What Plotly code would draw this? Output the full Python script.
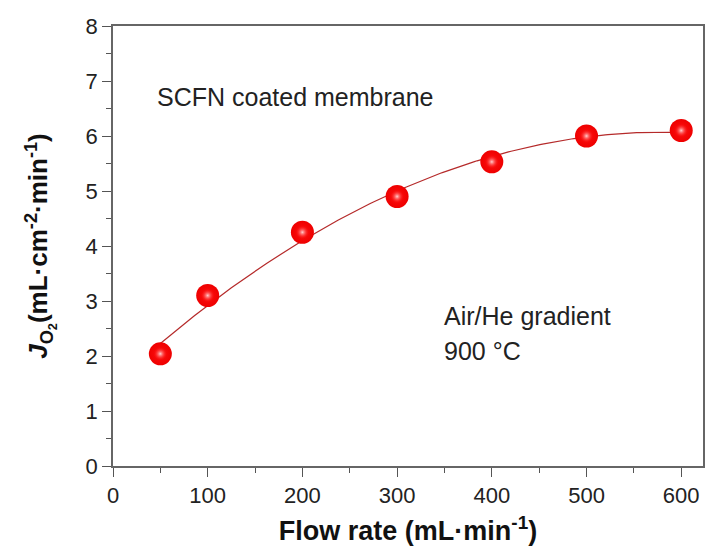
import numpy as np
import plotly.graph_objects as go

flow_rate = [50, 100, 200, 300, 400, 500, 600]
jo2 = [2.04, 3.10, 4.25, 4.90, 5.53, 6.00, 6.10]
x_ticks = [0, 100, 200, 300, 400, 500, 600]
y_ticks = [0, 1, 2, 3, 4, 5, 6, 7, 8]

# quadratic fit of the measured data
coef = np.polyfit(flow_rate, jo2, 2)
fit_x = np.linspace(min(flow_rate), max(flow_rate), 200)
fit_y = np.polyval(coef, fit_x)

FONT = "Liberation Sans, Arial, sans-serif"

fig = go.Figure()
fig.add_trace(go.Scatter(x=fit_x, y=fit_y, mode="lines",
                         line=dict(color="#b52a2a", width=1.2), hoverinfo="skip"))
fig.add_trace(go.Scatter(x=flow_rate, y=jo2, mode="markers",
                         marker=dict(size=23, color="#ee0000", line=dict(width=0),
                                     gradient=dict(type="radial", color="#ff1010"))))
fig.add_trace(go.Scatter(x=flow_rate, y=jo2, mode="markers",
                         marker=dict(size=14, color="rgba(255,0,0,0)", line=dict(width=0),
                                     gradient=dict(type="radial", color="#ffd0d0"))))

fig.update_layout(
    width=708, height=554,
    margin=dict(l=113, r=3, t=26, b=88),
    paper_bgcolor="white", plot_bgcolor="white",
    showlegend=False,
    font=dict(family=FONT, size=22, color="#222"),
    xaxis=dict(range=[0, 623], tickvals=x_ticks, ticks="outside", ticklen=9, tickwidth=1,
               tickcolor="#555", showline=True, linecolor="#666", linewidth=1.5, mirror=True,
               showgrid=False, zeroline=False,
               minor=dict(dtick=50, tick0=0, ticks="outside", ticklen=5, tickcolor="#555"),
               tickfont=dict(size=22, family=FONT),
               title=dict(text="<b>Flow rate (mL·min<sup>-1</sup>)</b>",
                          font=dict(size=27, family=FONT, color="#111"), standoff=14)),
    yaxis=dict(range=[0, 8], tickvals=y_ticks, ticks="outside", ticklen=9, tickwidth=1,
               tickcolor="#555", showline=True, linecolor="#666", linewidth=1.5, mirror=True,
               showgrid=False, zeroline=False,
               minor=dict(dtick=0.5, tick0=0, ticks="outside", ticklen=5, tickcolor="#555"),
               tickfont=dict(size=22, family=FONT),
               title=dict(text="<b><i>J</i><sub>O<sub>2</sub></sub>(mL·cm<sup>-2</sup>·min<sup>-1</sup>)</b>",
                          font=dict(size=26, family=FONT, color="#111"), standoff=30)),
    annotations=[
        dict(text="SCFN coated membrane", x=0.071, y=0.839, xref="paper", yref="paper",
             xanchor="left", yanchor="middle", showarrow=False,
             font=dict(size=25, family=FONT, color="#222")),
        dict(text="Air/He gradient", x=0.558, y=0.341, xref="paper", yref="paper",
             xanchor="left", yanchor="middle", showarrow=False,
             font=dict(size=25, family=FONT, color="#222")),
        dict(text="900 °C", x=0.558, y=0.261, xref="paper", yref="paper",
             xanchor="left", yanchor="middle", showarrow=False,
             font=dict(size=25, family=FONT, color="#222")),
    ],
)

fig.write_html("out.html")
